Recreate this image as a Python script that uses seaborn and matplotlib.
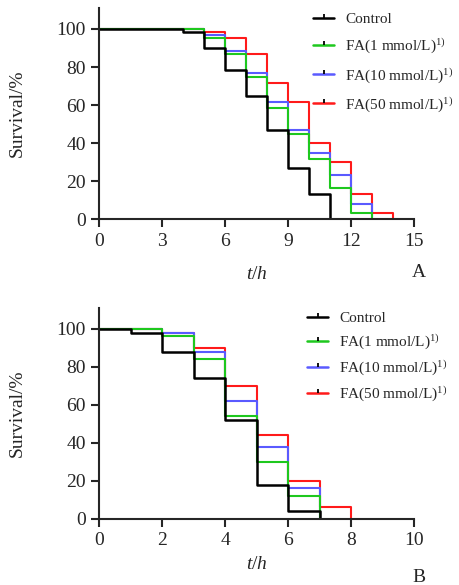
import matplotlib
matplotlib.use("Agg")
import matplotlib.pyplot as plt
import seaborn as sns
from matplotlib.lines import Line2D

# --- data (Kaplan-Meier style steps) ---
GROUPS = ['Control', 'FA1', 'FA10', 'FA50']
LEGEND_LABELS = ['Control',
                 r'FA(1 mmol/L)$^{\mathrm{1)}}$',
                 r'FA(10 mmol/L)$^{\mathrm{1)}}$',
                 r'FA(50 mmol/L)$^{\mathrm{1)}}$']
COLORS = {'Control': '#000000', 'FA1': '#1ec81e', 'FA10': '#5a5aff', 'FA50': '#ff1a1a'}

# panel A
a_t_control = [0, 4, 5, 6, 7, 8, 9, 10, 11]
a_s_control = [100, 98.3, 90, 78.3, 65, 46.7, 26.7, 13.3, 0]
a_t_fa1 = [0, 5, 6, 7, 8, 9, 10, 11, 12, 13]
a_s_fa1 = [100, 95, 86.7, 75, 58.3, 45, 31.7, 16.7, 3.3, 0]
a_t_fa10 = [0, 5, 6, 7, 8, 9, 10, 11, 12, 13]
a_s_fa10 = [100, 96.7, 88.3, 76.7, 61.7, 46.7, 35, 23.3, 8.3, 0]
a_t_fa50 = [0, 5, 6, 7, 8, 9, 10, 11, 12, 13, 14]
a_s_fa50 = [100, 98.3, 95, 86.7, 71.7, 61.7, 40, 30, 13.3, 3.3, 0]

# panel B
b_t_control = [0, 1, 2, 3, 4, 5, 6, 7]
b_s_control = [100, 98, 88, 74, 52, 18, 4, 0]
b_t_fa1 = [0, 2, 3, 4, 5, 6, 7]
b_s_fa1 = [100, 96, 84, 54, 30, 12, 0]
b_t_fa10 = [0, 2, 3, 4, 5, 6, 7]
b_s_fa10 = [100, 98, 88, 62, 38, 16, 0]
b_t_fa50 = [0, 2, 3, 4, 5, 6, 7, 8]
b_s_fa50 = [100, 98, 90, 70, 44, 20, 6, 0]

A_X_TICKS = [0, 3, 6, 9, 12, 15]
B_X_TICKS = [0, 2, 4, 6, 8, 10]
Y_TICKS = [0, 20, 40, 60, 80, 100]

sns.set_style('ticks')
plt.rcParams['font.family'] = ['Liberation Serif', 'DejaVu Serif']
plt.rcParams['mathtext.fontset'] = 'custom'
plt.rcParams['mathtext.rm'] = 'Liberation Serif'
plt.rcParams['mathtext.it'] = 'Liberation Serif:italic'

fig = plt.figure(figsize=(4.59, 5.85), dpi=100)
axA = fig.add_axes([0.2163, 0.6251, 0.6856, 0.3612])
axB = fig.add_axes([0.2163, 0.1132, 0.6856, 0.3604])


def draw_panel(ax, series, xticks, letter, letter_dy, xpad, leg_anchor, spacing):
    # red drawn first, black last (black sits on top)
    for g in ['FA50', 'FA10', 'FA1', 'Control']:
        t, s = series[g]
        sns.lineplot(x=t, y=s, ax=ax, color=COLORS[g], sort=False, estimator=None,
                     drawstyle='steps-post', linewidth=1.8 if g == 'Control' else 1.5)
    ax.set_xlim(xticks[0], xticks[-1])
    ax.set_ylim(0, 111)
    ax.set_xticks(xticks)
    ax.set_yticks(Y_TICKS)
    ax.tick_params(labelsize=14, width=1.5, length=5.5, direction='out', pad=4)
    for sp in ['top', 'right']:
        ax.spines[sp].set_visible(False)
    for sp in ['left', 'bottom']:
        ax.spines[sp].set_linewidth(1.5)
    ax.set_ylabel('Survival/%', fontsize=14, labelpad=22)
    ax.set_xlabel('$t$/$h$', fontsize=14, labelpad=xpad)
    pos = ax.get_position()
    fig.text(pos.x1 + 0.01, pos.y0 - letter_dy, letter, fontsize=14, ha='center', va='center')

    handles = [Line2D([], [], color=COLORS[g], lw=1.8, marker=2, markersize=2.8,
                      markeredgewidth=1.3, markeredgecolor='black') for g in GROUPS]
    ax.legend(handles, LEGEND_LABELS, loc='upper left', bbox_to_anchor=leg_anchor,
              bbox_transform=fig.transFigure, frameon=False, fontsize=11,
              handlelength=1.4, handletextpad=0.7, labelspacing=spacing,
              borderpad=0, borderaxespad=0)


draw_panel(axA, {'Control': (a_t_control, a_s_control), 'FA1': (a_t_fa1, a_s_fa1),
                 'FA10': (a_t_fa10, a_s_fa10), 'FA50': (a_t_fa50, a_s_fa50)},
           A_X_TICKS, 'A', 0.0915, 12, (0.682, 0.979), 0.68)
draw_panel(axB, {'Control': (b_t_control, b_s_control), 'FA1': (b_t_fa1, b_s_fa1),
                 'FA10': (b_t_fa10, b_s_fa10), 'FA50': (b_t_fa50, b_s_fa50)},
           B_X_TICKS, 'B', 0.1, 5, (0.669, 0.467), 0.46)

fig.savefig('out.png', dpi=100)
